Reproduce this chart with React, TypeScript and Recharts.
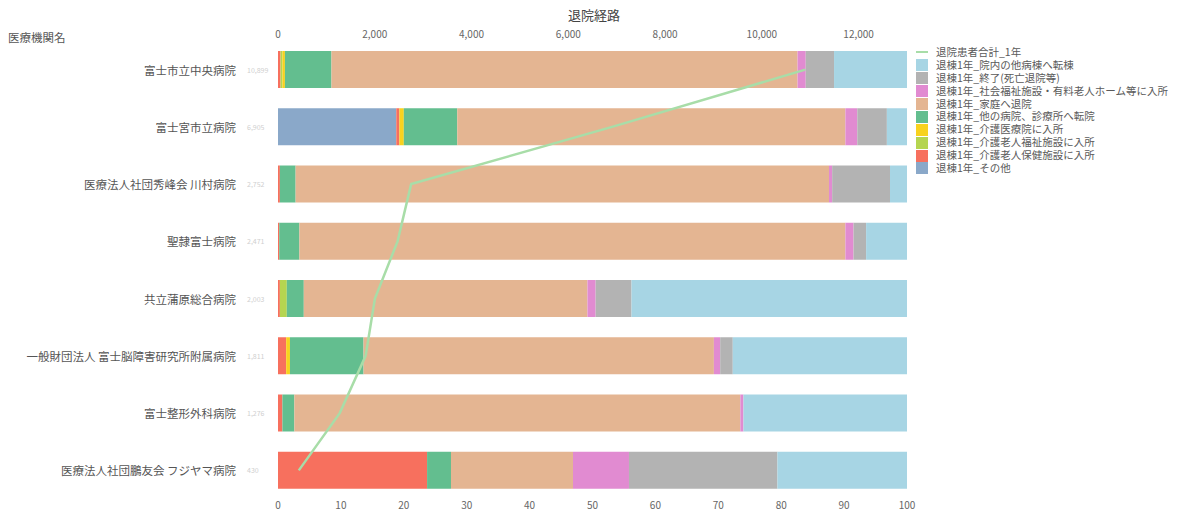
import React from 'react';
import { ComposedChart, Bar, Line, XAxis, YAxis, Legend } from 'recharts';

const hospitals = [
  '富士市立中央病院',
  '富士宮市立病院',
  '医療法人社団秀峰会 川村病院',
  '聖隷富士病院',
  '共立蒲原総合病院',
  '一般財団法人 富士脳障害研究所附属病院',
  '富士整形外科病院',
  '医療法人社団鵬友会 フジヤマ病院',
];
const totals = [10899, 6905, 2752, 2471, 2003, 1811, 1276, 430];

const sonota = [0, 18.8, 0, 0, 0, 0, 0, 0];
const roken = [0.4, 0.5, 0.3, 0.2, 0.3, 1.3, 0.7, 23.7];
const tokuyo = [0.3, 0, 0, 0, 1.1, 0, 0, 0];
const iryoin = [0.4, 0.7, 0, 0, 0, 0.6, 0, 0];
const tabyoin = [7.4, 8.5, 2.5, 3.2, 2.7, 11.7, 1.9, 3.8];
const katei = [74.1, 61.7, 84.8, 86.8, 45.1, 55.7, 70.9, 19.4];
const fukushi = [1.3, 1.9, 0.5, 1.3, 1.3, 1.0, 0.5, 8.9];
const shuryo = [4.5, 4.7, 9.2, 2.0, 5.7, 2.0, 0, 23.6];
const innai = [11.6, 3.2, 2.7, 6.5, 43.8, 27.7, 26.0, 20.6];

const pctTicks = [0, 10, 20, 30, 40, 50, 60, 70, 80, 90, 100];
const cntTicks = [0, 2000, 4000, 6000, 8000, 10000, 12000];

const lineName = '退院患者合計_1年';
const series = [
  { key: 'sonota', name: '退棟1年_その他', color: '#8AA8C9', values: sonota },
  { key: 'roken', name: '退棟1年_介護老人保健施設に入所', color: '#F7705E', values: roken },
  { key: 'tokuyo', name: '退棟1年_介護老人福祉施設に入所', color: '#B5D550', values: tokuyo },
  { key: 'iryoin', name: '退棟1年_介護医療院に入所', color: '#F8D21E', values: iryoin },
  { key: 'tabyoin', name: '退棟1年_他の病院、診療所へ転院', color: '#63BE8F', values: tabyoin },
  { key: 'katei', name: '退棟1年_家庭へ退院', color: '#E4B592', values: katei },
  { key: 'fukushi', name: '退棟1年_社会福祉施設・有料老人ホーム等に入所', color: '#E18BD1', values: fukushi },
  { key: 'shuryo', name: '退棟1年_終了(死亡退院等)', color: '#B3B3B3', values: shuryo },
  { key: 'innai', name: '退棟1年_院内の他病棟へ転棟', color: '#A7D5E4', values: innai },
];

const data = hospitals.map((name, i) => {
  const row: Record<string, any> = { name, total: totals[i] };
  series.forEach((s) => {
    row[s.key] = s.values[i];
  });
  return row;
});

const FONT = '"Noto Sans CJK JP", "Noto Sans", sans-serif';

const HospitalTick = (props: any) => {
  const { y, payload, index } = props;
  const t = totals[index];
  return (
    <g>
      <text x={236} y={y} textAnchor="end" dominantBaseline="central" fontSize={11.5} fill="#555" fontFamily={FONT}>
        {payload.value}
      </text>
      <text x={247} y={y} textAnchor="start" dominantBaseline="central" fontSize={7} fill="#cfcfcf" fontFamily={FONT}>
        {t !== undefined ? t.toLocaleString('en-US') : ''}
      </text>
    </g>
  );
};

const LegendContent = () => {
  const items = [...series].reverse();
  return (
    <div style={{ fontFamily: FONT, fontSize: 10.5, color: '#5a5a5a', lineHeight: '12.9px' }}>
      <div style={{ display: 'flex', alignItems: 'center', height: 12.9 }}>
        <span style={{ display: 'inline-block', width: 12, height: 2, background: '#A8DDA8', marginRight: 8 }} />
        <span>{lineName}</span>
      </div>
      {items.map((s) => (
        <div key={s.key} style={{ display: 'flex', alignItems: 'center', height: 12.9 }}>
          <span style={{ display: 'inline-block', width: 12, height: 12, background: s.color, marginRight: 8 }} />
          <span style={{ whiteSpace: 'nowrap' }}>{s.name}</span>
        </div>
      ))}
    </div>
  );
};

export default function App() {
  return (
    <div style={{ position: 'absolute', left: 0, top: 0, width: 1198, height: 513, background: '#fff' }}>
      <div
        style={{
          position: 'absolute',
          left: 0,
          top: 5,
          width: 1188,
          textAlign: 'center',
          fontFamily: FONT,
          fontSize: 13,
          color: '#444',
          zIndex: 2,
        }}
      >
        退院経路
      </div>
      <div
        style={{
          position: 'absolute',
          left: 8,
          top: 29,
          fontFamily: FONT,
          fontSize: 11.5,
          color: '#555',
          zIndex: 2,
        }}
      >
        医療機関名
      </div>
      <ComposedChart
        width={1198}
        height={513}
        data={data}
        layout="vertical"
        margin={{ top: 21, right: 291, bottom: 0, left: 0 }}
        barCategoryGap={20}
      >
        <XAxis
          xAxisId="pct"
          type="number"
          orientation="bottom"
          domain={[0, 100]}
          ticks={pctTicks}
          height={14}
          tickSize={0}
          tickMargin={3}
          axisLine={false}
          tickLine={false}
          tick={{ fontSize: 10, fill: '#666', fontFamily: FONT }}
          allowDataOverflow
        />
        <XAxis
          xAxisId="cnt"
          type="number"
          orientation="top"
          domain={[0, 13000]}
          ticks={cntTicks}
          height={20}
          tickSize={0}
          tickMargin={3}
          axisLine={false}
          tickLine={false}
          tick={{ fontSize: 10, fill: '#666', fontFamily: FONT }}
          tickFormatter={(v: number) => v.toLocaleString('en-US')}
          allowDataOverflow
        />
        <YAxis
          type="category"
          dataKey="name"
          width={278}
          axisLine={false}
          tickLine={false}
          tick={<HospitalTick />}
          interval={0}
        />
        {series.map((s) => (
          <Bar
            key={s.key}
            dataKey={s.key}
            name={s.name}
            stackId="a"
            xAxisId="pct"
            fill={s.color}
            barSize={37}
            isAnimationActive={false}
          />
        ))}
        <Line
          dataKey="total"
          name={lineName}
          xAxisId="cnt"
          type="linear"
          stroke="#A8DDA8"
          strokeWidth={2.5}
          dot={false}
          activeDot={false}
          isAnimationActive={false}
        />
        <Legend
          layout="vertical"
          align="center"
          verticalAlign="middle"
          content={<LegendContent />}
          wrapperStyle={{ left: 916, top: 46, width: 280, height: 132 }}
        />
      </ComposedChart>
    </div>
  );
}
